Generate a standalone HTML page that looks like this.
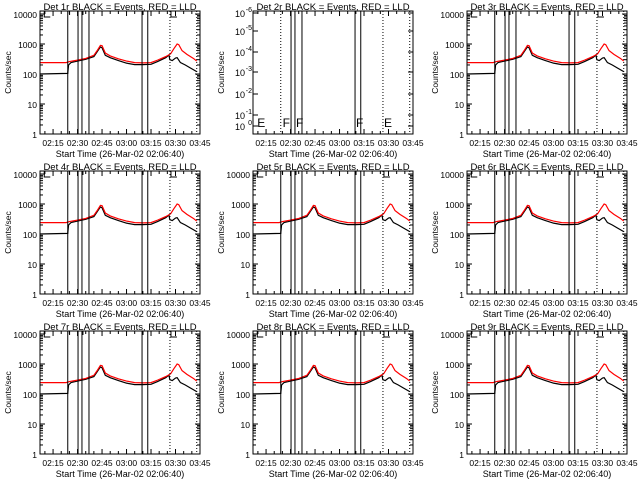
<!DOCTYPE html>
<html><head><meta charset="utf-8"><style>
html,body{margin:0;padding:0;background:#fff;}
svg{display:block;font-family:"Liberation Sans",sans-serif;}
</style></head><body>
<svg id="chart" width="640" height="480" viewBox="0 0 640 480" xmlns="http://www.w3.org/2000/svg"></svg>
<script>
// ---- data ----
const panelTitles = ["Det 1r BLACK = Events, RED = LLD","Det 2r BLACK = Events, RED = LLD","Det 3r BLACK = Events, RED = LLD","Det 4r BLACK = Events, RED = LLD","Det 5r BLACK = Events, RED = LLD","Det 6r BLACK = Events, RED = LLD","Det 7r BLACK = Events, RED = LLD","Det 8r BLACK = Events, RED = LLD","Det 9r BLACK = Events, RED = LLD"];
const xTickLabels = ["02:15","02:30","02:45","03:00","03:15","03:30","03:45"];
const xTickMinutes = [8,23,38,53,68,83,98]; // minutes after 02:07
const yTickLabels = ["1","10","100","1000","10000"];
const yTickValues = [1,10,100,1000,10000];
const redT = [0,16,18,23,28,31,33,35,37,38,40,43,48,53,58,63,68,72,77,80,82,84,85,87,90,94,96];
const redV = [240,240,260,290,330,380,420,600,900,880,500,400,320,270,240,235,240,290,380,470,700,1000,950,600,450,330,270];
const blackT = [0,17,17.5,19,23,28,31,33,35,37,38,40,43,48,53,58,63,68,72,77,79,79.5,81,83,84,86,89,92,96];
const blackV = [100,105,200,240,270,310,350,380,550,800,750,420,350,280,230,205,205,210,260,350,430,300,280,340,350,240,200,160,120];
const solidLineT = [17,23.3,25.7,30,62.5,66];
const dottedLineT = [79.6,96];
const markerT = [2,17.5,25.7,62.5,79.6];
const markerL = ["E","F","F","F","E"];
const panel2Labels = ["-6","-5","-4","-3","-2","-1","0"];
const panel2Y = [13,31,52,72,94,115,126];

// ---- layout ----
const colLeft=[40,253,467], rowTop=[11,171,331], W=160, H=123;
const tMin=0, tMax=98, logMax=4.1;
const svg=document.getElementById('chart');
const NS='http://www.w3.org/2000/svg';
function mk(tag,attrs,parent){const e=document.createElementNS(NS,tag);for(const k in attrs)e.setAttribute(k,attrs[k]);(parent||svg).appendChild(e);return e;}

for(let p=0;p<9;p++){
  const L=colLeft[p%3], T=rowTop[Math.floor(p/3)], B=T+H, R=L+W;
  const xs=t=>L+(t-tMin)/(tMax-tMin)*W;
  const ys=v=>B-Math.log10(v)/logMax*H;
  const g=mk('g',{});
  
  
  const clipId='c'+p;
  const cp=mk('clipPath',{id:clipId},g); mk('rect',{x:L,y:T,width:W,height:H},cp);
  for(let m=0;m<=tMax;m++){
    if((m-8)%5!==0) continue;
    const x=xs(m), major=(m-8)%15===0, len=major?5:3;
    mk('line',{x1:x,y1:B,x2:x,y2:B-len,stroke:'#000','stroke-width':1},g);
    mk('line',{x1:x,y1:T,x2:x,y2:T+len,stroke:'#000','stroke-width':1},g);
  }
  xTickLabels.forEach((lab,i)=>{
    const t=mk('text',{x:xs(xTickMinutes[i]),y:B+12,'font-size':8.5,'text-anchor':'middle'},g);
    t.textContent=lab;
    
    
  });
  const xt=mk('text',{x:L+W/2,y:B+23,'font-size':9,'text-anchor':'middle'},g);
  xt.textContent='Start Time (26-Mar-02 02:06:40)';
  
  
  const yt=mk('text',{x:0,y:0,'font-size':8.5,'text-anchor':'middle',transform:`translate(${L-29},${T+H/2}) rotate(-90)`},g);
  yt.textContent='Counts/sec';
  
  
  const tt=mk('text',{x:L+W/2,y:T-1,'font-size':9.5,'text-anchor':'middle'},g);
  tt.textContent=panelTitles[p];
  
  

  if(p===1){
    panel2Y.forEach((yy,i)=>{
      mk('line',{x1:L,y1:yy,x2:L+5,y2:yy,stroke:'#000'},g);
      mk('line',{x1:R,y1:yy,x2:R-5,y2:yy,stroke:'#000'},g);
      const t=mk('text',{x:L-8,y:yy+4,'font-size':9,'text-anchor':'end'},g);
      t.textContent='10';
      
      
      const s=mk('text',{x:L-1,y:yy-1,'font-size':7,'text-anchor':'end'},g);
      s.textContent=panel2Labels[i];
    });
    markerT.forEach((t,i)=>{
      const m=mk('text',{x:xs(t)+1,y:B-7,'font-size':12},g);
      m.textContent=markerL[i];
      
      
    });
  } else {
    for(let d=0;d<5;d++){
      for(let k=1;k<10;k++){
        const v=Math.pow(10,d)*k; const y=ys(v); if(y<T) continue;
        const len=k===1?5:3;
        mk('line',{x1:L,y1:y,x2:L+len,y2:y,stroke:'#000'},g);
        mk('line',{x1:R,y1:y,x2:R-len,y2:y,stroke:'#000'},g);
      }
    }
    yTickValues.forEach((v,i)=>{
      const t=mk('text',{x:L-3,y:ys(v)+4,'font-size':8.5,'text-anchor':'end'},g);
      t.textContent=yTickLabels[i];
      
      
    });
    markerT.forEach((t,i)=>{
      const x=xs(t)+1;
      if(markerL[i]==='E') mk('path',{d:`M${x} ${T} V${T+6} H${x+6}`,fill:'none',stroke:'#000'},g);
      else mk('path',{d:`M${x} ${T} V${T+4}`,fill:'none',stroke:'#000'},g);
    });
    const gc=mk('g',{'clip-path':`url(#${clipId})`},g);
    const bl=mk('polyline',{points:blackT.map((t,i)=>xs(t)+','+ys(blackV[i])).join(' '),fill:'none',stroke:'#000','stroke-width':1.2},gc);
    
    
    const rl=mk('polyline',{points:redT.map((t,i)=>xs(t)+','+ys(redV[i])).join(' '),fill:'none',stroke:'#f00','stroke-width':1.2},gc);
    
    
  }
  solidLineT.forEach((t,i)=>{
    const dotted = (p===1 && i===0);
    const l=mk('line',{x1:xs(t),y1:T,x2:xs(t),y2:B,stroke:'#000','stroke-width':1,'stroke-dasharray':dotted?'1,2':'none'},g);
    
    
  });
  dottedLineT.forEach(t=>{
    const l=mk('line',{x1:xs(t),y1:T,x2:xs(t),y2:B,stroke:'#000','stroke-width':1,'stroke-dasharray':'1,2'},g);
    
    
  });
  mk('rect',{x:L,y:T,width:W,height:H,fill:'none',stroke:'#000','stroke-width':1},g);
}
</script>
</body></html>
